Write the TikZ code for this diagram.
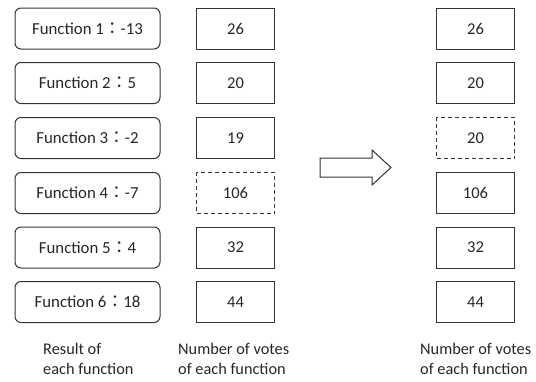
\documentclass[tikz,border=0pt]{standalone}
\usepackage{fontspec}
\setmainfont{Carlito}
\newfontfamily\cjk{Noto Sans CJK TC}
\definecolor{ln}{HTML}{333333}
\definecolor{tx}{HTML}{262626}
\tikzset{
  fbox/.style={draw=ln, line width=1pt, rounded corners=6pt, minimum width=145pt, minimum height=41pt, inner sep=0pt, text=tx, font=\fontsize{16.8}{19}\selectfont},
  vbox/.style={draw=ln, line width=1pt, minimum width=78pt, minimum height=41pt, inner sep=0pt, text=tx, font=\fontsize{16.5}{19}\selectfont},
  dbox/.style={vbox, dash pattern=on 4pt off 3pt},
  lbl/.style={anchor=north west, align=left, inner sep=0pt, text=tx, font=\fontsize{16.3}{20}\selectfont}
}
\begin{document}
\begin{tikzpicture}[x=1pt,y=-1pt]
\useasboundingbox (0,0) rectangle (536,381);
% left function boxes
\node[fbox] (f1) at (87.5,28.5) {Function 1{\cjk ：}-13};
\node[fbox] (f2) at (87.5,83) {Function 2{\cjk ：}5};
\node[fbox] (f3) at (87.5,138) {Function 3{\cjk ：}-2};
\node[fbox] (f4) at (87.5,193) {Function 4{\cjk ：}-7};
\node[fbox] (f5) at (87.5,247.5) {Function 5{\cjk ：}4};
\node[fbox] (f6) at (87.5,302) {Function 6{\cjk ：}18};
% middle vote boxes
\node[vbox] (v1) at (235.5,28.5) {26};
\node[vbox] (v2) at (235.5,83) {20};
\node[vbox] (v3) at (235.5,138) {19};
\node[dbox] (v4) at (235.5,193) {106};
\node[vbox] (v5) at (235.5,247.5) {32};
\node[vbox] (v6) at (235.5,302) {44};
% right vote boxes
\node[vbox] (r1) at (475.5,28.5) {26};
\node[vbox] (r2) at (475.5,83) {20};
\node[dbox] (r3) at (475.5,138) {20};
\node[vbox] (r4) at (475.5,193) {106};
\node[vbox] (r5) at (475.5,247.5) {32};
\node[vbox] (r6) at (475.5,302) {44};
% big arrow
\draw[ln, line width=1pt, fill=white] (320,158) -- (372,158) -- (372,150) -- (391,167.5) -- (372,185) -- (372,177) -- (320,177) -- cycle;
% labels
\node[lbl] (l1) at (43,343) {Result of\\each function};
\node[lbl] (l2) at (178,343) {Number of votes\\of each function};
\node[lbl] (l3) at (420,343) {Number of votes\\of each function};
\end{tikzpicture}
\end{document}
